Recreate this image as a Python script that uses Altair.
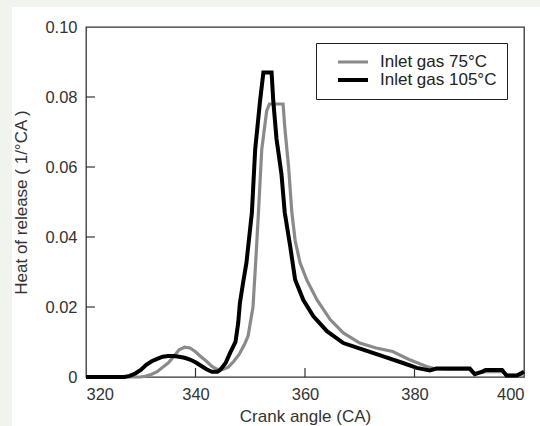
import altair as alt
import pandas as pd

# Inlet gas 75°C
angle_75 = [320, 330, 331, 332, 333, 334, 335, 336, 337, 338, 339, 340, 341, 342, 343, 344, 345, 346,
            347, 348, 349, 349.6, 350.5, 351.0, 351.5, 352.1, 353.0, 353.5, 356.0, 356.3, 357.0, 357.6,
            358.2, 359.1, 360.3, 362.2, 364.6, 367.0, 370.0, 373.0, 376.0, 379.0, 382.2, 384.0, 386.0,
            390.0, 391.0, 393.0, 396.0, 397.0, 399.0, 400.0]
hrr_75 = [0, 0, 0.0003, 0.0008, 0.0015, 0.0028, 0.004, 0.0058, 0.0078, 0.0085, 0.0083, 0.0072, 0.0058,
          0.0045, 0.003, 0.0022, 0.0022, 0.0028, 0.0045, 0.0065, 0.0095, 0.0117, 0.020, 0.033, 0.047,
          0.065, 0.076, 0.078, 0.078, 0.0715, 0.060, 0.047, 0.039, 0.0326, 0.0278, 0.022, 0.0164, 0.0126,
          0.0097, 0.0083, 0.0073, 0.005, 0.003, 0.0023, 0.0022, 0.0022, 0.0010, 0.0015, 0.0015, 0.0005,
          0.0005, 0.001]

# Inlet gas 105°C
angle_105 = [320, 327, 328, 329, 330, 331, 332, 333, 334, 335, 336, 337, 338, 339, 340, 341, 342, 343,
             344, 344.5, 345.5, 346.3, 347.3, 347.8, 348.1, 348.7, 349.3, 350.3, 350.9, 351.8, 352.4,
             353.9, 354.2, 354.8, 355.7, 356.3, 357.3, 358.2, 359.7, 361.5, 364.0, 367.0, 370.6, 374.3,
             377.9, 380.4, 382.8, 384.0, 390.1, 391.0, 392.5, 393.0, 396.0, 396.8, 398.7, 400.0]
hrr_105 = [0, 0, 0.0003, 0.001, 0.002, 0.0035, 0.0045, 0.0052, 0.0058, 0.006, 0.006, 0.0058, 0.0055,
           0.005, 0.0042, 0.0032, 0.0022, 0.0015, 0.0015, 0.002, 0.004, 0.0068, 0.010, 0.0154, 0.021,
           0.027, 0.0326, 0.047, 0.065, 0.079, 0.087, 0.087, 0.079, 0.068, 0.058, 0.047, 0.0373, 0.0278,
           0.022, 0.0174, 0.0131, 0.0097, 0.0078, 0.0059, 0.004, 0.0026, 0.0019, 0.0024, 0.0024, 0.0008,
           0.0016, 0.002, 0.002, 0.0004, 0.0004, 0.0015]

series = ["Inlet gas 75°C", "Inlet gas 105°C"]
colors = ["#8a8a8a", "#000000"]
widths = [3.2, 4.0]

x_ticks = [340, 360, 380]
y_ticks = [0.02, 0.04, 0.06, 0.08]
x_labels = [320, 340, 360, 380, 400]
y_labels = [0, 0.02, 0.04, 0.06, 0.08, 0.10]

W, H = 438, 350

df = pd.concat([
    pd.DataFrame({"angle": angle_75, "hrr": hrr_75, "series": series[0], "order": range(len(angle_75))}),
    pd.DataFrame({"angle": angle_105, "hrr": hrr_105, "series": series[1], "order": range(len(angle_105))}),
])

FONT = "Liberation Sans"
xscale = alt.Scale(domain=[320, 400], nice=False, zero=False)
yscale = alt.Scale(domain=[0, 0.10], nice=False)

lines = alt.Chart(df).mark_line(strokeJoin="miter", strokeCap="butt").encode(
    x=alt.X("angle:Q", scale=xscale,
            axis=alt.Axis(values=x_labels, title="Crank angle (CA)", ticks=False, domain=False,
                          grid=False, labelPadding=9, titlePadding=6, zindex=1)),
    y=alt.Y("hrr:Q", scale=yscale,
            axis=alt.Axis(values=y_labels, title="Heat of release ( 1/°CA )", ticks=False,
                          domain=False, grid=False, labelPadding=9, titlePadding=14, zindex=1,
                          labelExpr="datum.value == 0 ? '0' : format(datum.value, '.2f')")),
    color=alt.Color("series:N", scale=alt.Scale(domain=series, range=colors),
                    legend=alt.Legend(title=None, orient="none", legendX=230, legendY=16,
                                      strokeColor="#222", fillColor="white", padding=10,
                                      symbolType="stroke", symbolSize=900, symbolStrokeWidth=3.5,
                                      clipHeight=18, rowPadding=0,
                                      labelFontSize=17, labelFont=FONT, labelColor="#222",
                                      labelOffset=10, symbolOffset=10)),
    strokeWidth=alt.StrokeWidth("series:N", scale=alt.Scale(domain=series, range=widths), legend=None),
    order="order:Q",
)

xt = alt.Chart(pd.DataFrame({"t": x_ticks})).mark_rule(color="#333", strokeWidth=1.2).encode(
    x=alt.X("t:Q", scale=xscale), y=alt.value(H), y2=alt.value(H - 9))
yt = alt.Chart(pd.DataFrame({"t": y_ticks})).mark_rule(color="#333", strokeWidth=1.2).encode(
    y=alt.Y("t:Q", scale=yscale), x=alt.value(0), x2=alt.value(9))

border_left = alt.Chart(pd.DataFrame({"a": [0]})).mark_rect(color="#f1f3ef").encode(
    x=alt.value(-86), x2=alt.value(-74), y=alt.value(-27), y2=alt.value(H + 49))
border_top = alt.Chart(pd.DataFrame({"a": [0]})).mark_rect(color="#f1f3ef").encode(
    x=alt.value(-86), x2=alt.value(W + 16), y=alt.value(-27), y2=alt.value(-20))

chart = alt.layer(border_left, border_top, lines, xt, yt).properties(
    width=W, height=H,
    autosize=alt.AutoSizeParams(type="none"),
    padding={"left": 86, "top": 27, "right": 16, "bottom": 49},
    background="white",
).configure_view(
    stroke="#333", strokeWidth=1.3
).configure_axis(
    labelFont=FONT, titleFont=FONT, labelFontSize=16.5, titleFontSize=17,
    labelColor="#333", titleColor="#333", titleFontWeight="normal",
)

chart.save("out.html", embed_options={"renderer": "svg", "actions": False})
